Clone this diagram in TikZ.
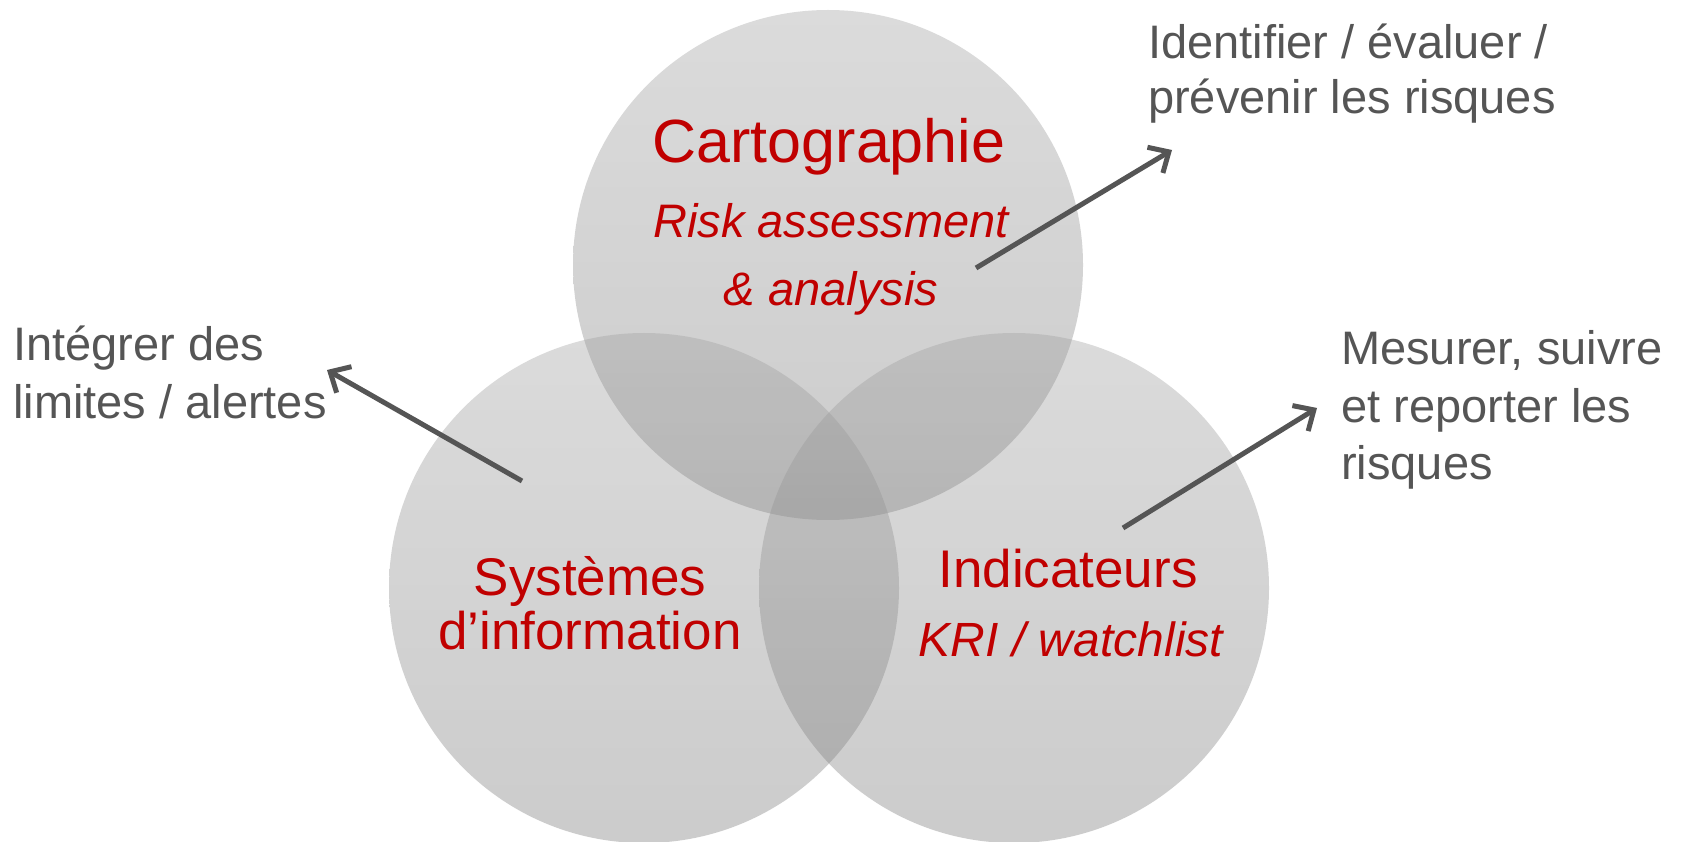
\documentclass[tikz,border=0pt]{standalone}
\usepackage{fontspec}
\setmainfont{Liberation Sans}
\usetikzlibrary{arrows.meta}
\definecolor{txtred}{HTML}{C00000}
\definecolor{txtgray}{HTML}{555555}
\definecolor{ctop}{gray}{0.63}
\definecolor{cbot}{gray}{0.47}
\begin{document}
\begin{tikzpicture}[x=1pt,y=-1pt,
  venn/.style={circle, minimum size=510pt, inner sep=0pt, top color=ctop, bottom color=cbot, fill opacity=0.375, draw=none},
  bigred/.style={inner sep=0pt, anchor=base, text=txtred, font=\fontsize{61}{70}\selectfont},
  midred/.style={inner sep=0pt, anchor=base, text=txtred, font=\fontsize{53}{60}\selectfont},
  itred/.style={inner sep=0pt, anchor=base, text=txtred, font=\fontsize{47}{55}\selectfont\itshape},
  itredb/.style={inner sep=0pt, anchor=base, text=txtred, font=\fontsize{48}{55}\selectfont\itshape},
  graytxt/.style={inner sep=0pt, anchor=base west, text=txtgray, font=\fontsize{47}{55}\selectfont},
  arr/.style={draw=txtgray, line width=5pt, -{Straight Barb[length=16pt,width=30pt]}}
]
\useasboundingbox (0,0) rectangle (1682,842);
\fill[white] (0,0) rectangle (1682,842);

\node[venn] (top) at (828,265) {};
\node[venn] (bl) at (644,588) {};
\node[venn] (br) at (1014,588) {};

\node[bigred] (carto) at (829,163) {Cartographie};
\node[itred] (risk) at (831,238) {Risk assessment};
\node[itred] (anal) at (831,306) {\& analysis};

\node[midred] (sys) at (590,595) {Systèmes};
\node[midred] (info) at (590,649) {d’information};

\node[midred] (ind) at (1068,587) {Indicateurs};
\node[itredb] (kri) at (1071,656) {KRI / watchlist};

\node[graytxt] (id1) at (1148,59) {Identifier / évaluer /};
\node[graytxt] (id2) at (1148,114) {prévenir les risques};

\node[graytxt] (in1) at (13,361) {Intégrer des};
\node[graytxt] (in2) at (13,418) {limites / alertes};

\node[graytxt] (me1) at (1341,365) {Mesurer, suivre};
\node[graytxt] (me2) at (1341,422) {et reporter les};
\node[graytxt] (me3) at (1341,479) {risques};

\coordinate (a1s) at (976,268);
\coordinate (a1e) at (1172,150);
\coordinate (a2s) at (522,481);
\coordinate (a2e) at (327,370);
\coordinate (a3s) at (1123,528);
\coordinate (a3e) at (1317,408);

\draw[arr] (a1s) -- (a1e);
\draw[arr] (a2s) -- (a2e);
\draw[arr] (a3s) -- (a3e);
\end{tikzpicture}
\end{document}
